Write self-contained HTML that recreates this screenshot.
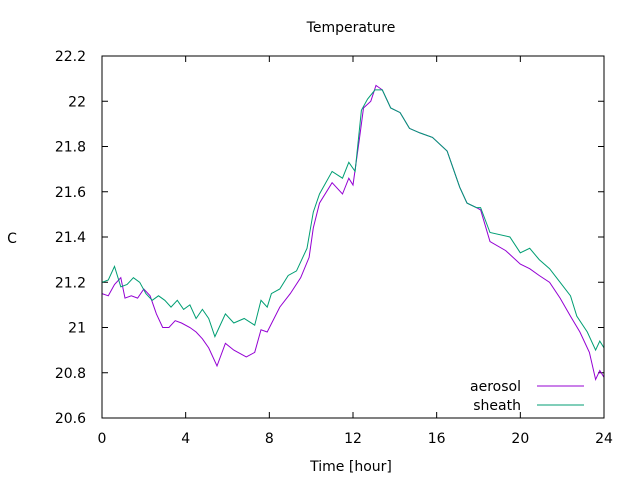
<!DOCTYPE html>
<html><head><meta charset="utf-8"><style>
body{margin:0;background:#fff;}
svg text{font-family:"DejaVu Sans","Liberation Sans",sans-serif;font-size:14px;fill:#000;}
</style></head><body>
<svg id="chart" width="640" height="480" viewBox="0 0 640 480" xmlns="http://www.w3.org/2000/svg">
<rect width="640" height="480" fill="#fff"/>
<text x="351" y="32" text-anchor="middle">Temperature</text>
<text x="351" y="471" text-anchor="middle">Time [hour]</text>
<text x="12" y="243" text-anchor="middle">C</text>
<g id="axes"></g>
<g id="series"></g>
<rect x="102" y="56" width="502" height="362" fill="none" stroke="#000" stroke-width="1"/>
<g>
<text x="521" y="391" text-anchor="end">aerosol</text>
<line x1="537" y1="386" x2="584" y2="386" stroke="#9400d3" stroke-width="1"/>
<text x="521" y="410" text-anchor="end">sheath</text>
<line x1="537" y1="405" x2="584" y2="405" stroke="#009e73" stroke-width="1"/>
</g>
</svg>
<script>
const xTicks=[0,4,8,12,16,20,24];
const yTicks=[20.6,20.8,21,21.2,21.4,21.6,21.8,22,22.2];
const yTickLabels=["20.6","20.8","21","21.2","21.4","21.6","21.8","22","22.2"];
const sheathT=[0,0.3,0.6,0.9,1.2,1.5,1.8,2.1,2.4,2.7,3.0,3.3,3.6,3.9,4.2,4.5,4.8,5.1,5.4,5.9,6.3,6.8,7.3,7.6,7.9,8.1,8.5,8.9,9.3,9.8,10.1,10.4,11.0,11.5,11.8,12.1,12.4,12.7,13.05,13.4,13.8,14.25,14.7,15.2,15.8,16.5,16.8,17.1,17.45,17.9,18.1,18.55,19.5,20.0,20.45,20.9,21.4,21.9,22.4,22.7,23.2,23.6,23.8,24];
const sheathV=[21.2,21.21,21.27,21.18,21.19,21.22,21.2,21.15,21.12,21.14,21.12,21.09,21.12,21.08,21.1,21.04,21.08,21.04,20.96,21.06,21.02,21.04,21.01,21.12,21.09,21.15,21.17,21.23,21.25,21.35,21.51,21.59,21.69,21.66,21.73,21.69,21.96,22.01,22.05,22.05,21.97,21.95,21.88,21.86,21.84,21.78,21.7,21.62,21.55,21.53,21.53,21.42,21.4,21.33,21.35,21.3,21.26,21.2,21.14,21.05,20.98,20.9,20.94,20.91];
const aerosolT=[0,0.3,0.6,0.9,1.1,1.4,1.7,2.0,2.3,2.6,2.9,3.2,3.5,3.8,4.2,4.5,4.8,5.1,5.5,5.9,6.3,6.9,7.3,7.6,7.9,8.5,9.0,9.5,9.9,10.1,10.4,11.0,11.5,11.8,12.0,12.3,12.5,12.85,13.1,13.4,13.8,14.25,14.7,15.2,15.8,16.5,16.8,17.1,17.45,17.9,18.1,18.55,19.3,20.0,20.45,20.9,21.4,21.9,22.4,22.85,23.3,23.6,23.8,24];
const aerosolV=[21.15,21.14,21.19,21.22,21.13,21.14,21.13,21.17,21.14,21.06,21.0,21.0,21.03,21.02,21.0,20.98,20.95,20.91,20.83,20.93,20.9,20.87,20.89,20.99,20.98,21.09,21.15,21.22,21.31,21.44,21.55,21.64,21.59,21.66,21.63,21.83,21.97,22.0,22.07,22.05,21.97,21.95,21.88,21.86,21.84,21.78,21.7,21.62,21.55,21.53,21.52,21.38,21.34,21.28,21.26,21.23,21.2,21.13,21.05,20.98,20.89,20.77,20.81,20.78];
const X0=102,X1=604,Y0=418,Y1=56;
function xs(t){return X0+(t-0)/(24-0)*(X1-X0);}
function ys(v){return Y0-(v-20.6)/(22.2-20.6)*(Y0-Y1);}
const NS="http://www.w3.org/2000/svg";
const axes=document.getElementById('axes');
xTicks.forEach(t=>{
  const x=xs(t);
  [[Y0,Y0-6],[Y1,Y1+6]].forEach(p=>{
    const l=document.createElementNS(NS,'line');
    l.setAttribute('x1',x);l.setAttribute('x2',x);l.setAttribute('y1',p[0]);l.setAttribute('y2',p[1]);
    l.setAttribute('stroke','#000');
    
    
    axes.appendChild(l);
  });
  const tx=document.createElementNS(NS,'text');
  tx.setAttribute('x',x);tx.setAttribute('y',443);tx.setAttribute('text-anchor','middle');
  tx.textContent=String(t);
  
  
  axes.appendChild(tx);
});
yTicks.forEach((v,i)=>{
  const y=ys(v);
  [[X0,X0+6],[X1,X1-6]].forEach(p=>{
    const l=document.createElementNS(NS,'line');
    l.setAttribute('x1',p[0]);l.setAttribute('x2',p[1]);l.setAttribute('y1',y);l.setAttribute('y2',y);
    l.setAttribute('stroke','#000');
    
    
    axes.appendChild(l);
  });
  const tx=document.createElementNS(NS,'text');
  tx.setAttribute('x',86);tx.setAttribute('y',y+5);tx.setAttribute('text-anchor','end');
  tx.textContent=yTickLabels[i];
  
  
  axes.appendChild(tx);
});
const g=document.getElementById('series');
function line(T,V,color,name){
  const p=document.createElementNS(NS,'polyline');
  p.setAttribute('points',T.map((t,i)=>xs(t).toFixed(1)+','+ys(V[i]).toFixed(1)).join(' '));
  p.setAttribute('fill','none');p.setAttribute('stroke',color);p.setAttribute('stroke-width','1');
  
  
  g.appendChild(p);
}
line(aerosolT,aerosolV,'#9400d3','aerosol-line');
line(sheathT,sheathV,'#009e73','sheath-line');
</script>
</body></html>
